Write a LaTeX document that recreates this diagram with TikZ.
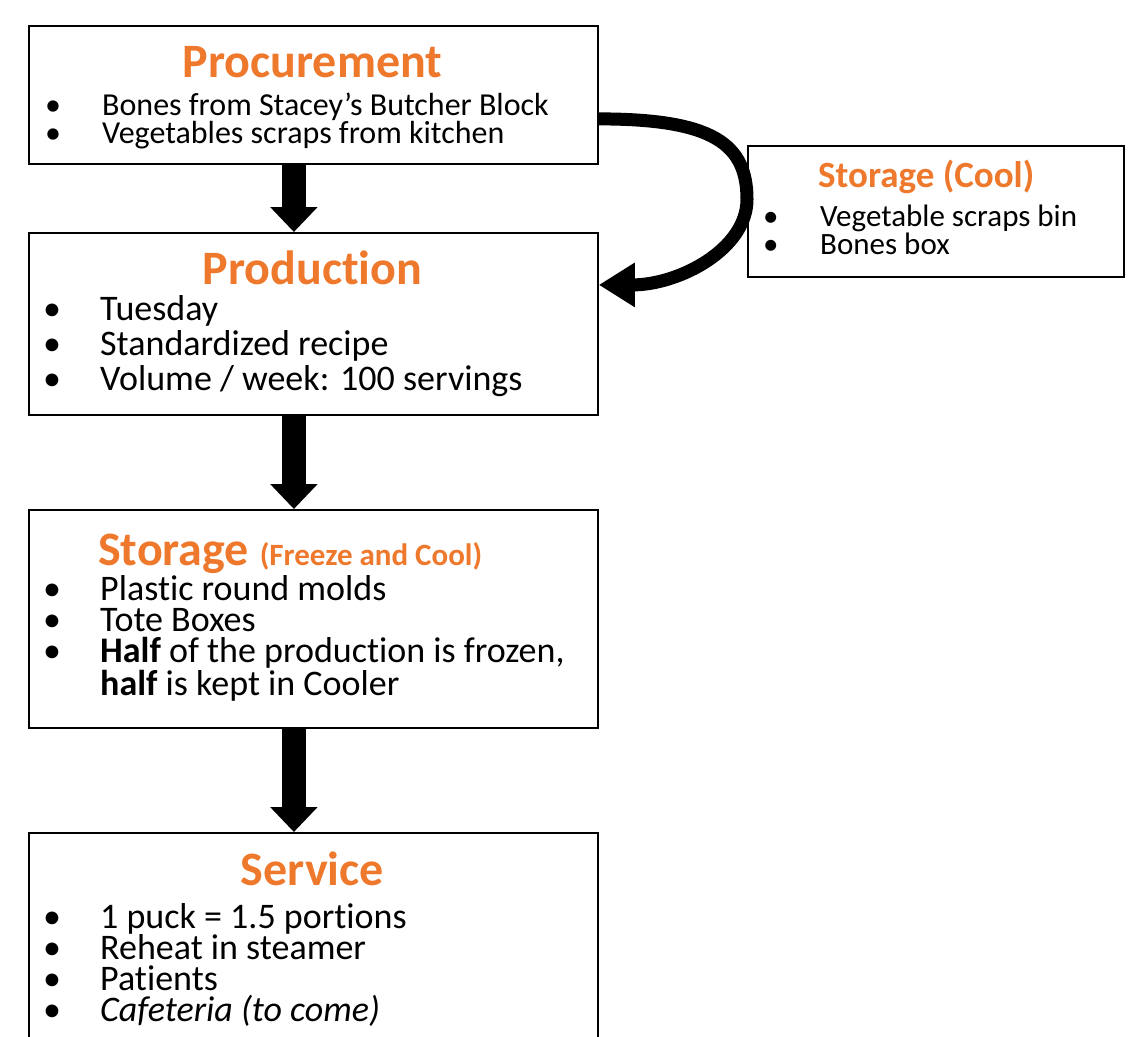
\documentclass[tikz,border=0pt]{standalone}
\usepackage{fontspec}
\setmainfont[Ligatures={TeX,NoCommon,NoContextual},Contextuals=NoAlternate]{Carlito}
\usetikzlibrary{arrows.meta,positioning}
\definecolor{headorange}{RGB}{238,120,44}
\newcommand{\bul}{\makebox[57pt][l]{\textbullet}}

\begin{document}
\begin{tikzpicture}[x=1pt,y=-1pt,
  box/.style={draw, line width=1.8pt, anchor=north west, inner sep=0pt},
  head/.style={text=headorange, inner sep=0pt, anchor=base, font=\bfseries\fontsize{48}{48}\selectfont},
  list/.style={align=left, anchor=base west, inner sep=0pt},
  down/.style={-{Triangle[width=46pt,length=25pt]}, line width=24pt},
  curl/.style={-{Triangle[width=42pt,length=36pt]}, line width=13pt}]
\useasboundingbox (0,0) rectangle (1131,1036);
\clip (0,0) rectangle (1131,1036);

\node[box, minimum width=569pt, minimum height=138pt] (proc) at (28,25) {};
\node[head] (proc-head) at (312.5,77) {Procurement};
\node[list, font=\fontsize{32}{28}\selectfont] (proc-list) at (45,143)
  {\bul Bones from Stacey's Butcher Block\\ \bul Vegetables scraps from kitchen};

\node[box, minimum width=569pt, minimum height=182pt] (prod) at (28,232) {};
\node[head] (prod-head) at (312.5,284) {Production};
\node[list, font=\fontsize{36}{35}\selectfont] (prod-list) at (43,390)
  {\bul Tuesday\\ \bul Standardized recipe\\ \bul Volume / week: 100 servings};

\node[box, minimum width=569pt, minimum height=218pt] (frz) at (28,509) {};
\node[head, anchor=base west] (frz-head) at (98,565) {Storage {\fontsize{31}{31}\selectfont (Freeze and Cool)}};
\node[list, font=\fontsize{36}{31}\selectfont] (frz-list) at (43,695)
  {\bul Plastic round molds\\ \bul Tote Boxes\\ \bul \textbf{Half} of the production is frozen,\\ \hspace*{57pt}\textbf{half} is kept in Cooler};

\node[box, minimum width=569pt, minimum height=238pt] (serv) at (28,832) {};
\node[head] (serv-head) at (312.5,885) {Service};
\node[list, font=\fontsize{36}{31}\selectfont] (serv-list) at (43,1021)
  {\bul 1 puck = 1.5 portions\\ \bul Reheat in steamer\\ \bul Patients\\ \bul \textit{Cafeteria (to come)}};

\node[box, minimum width=376pt, minimum height=131pt] (cool) at (747,145) {};
\node[head, anchor=base west, font=\bfseries\fontsize{37}{37}\selectfont] (cool-head) at (818,187) {Storage (Cool)};
\node[list, font=\fontsize{31}{28}\selectfont] (cool-list) at (763,254)
  {\bul Vegetable scraps bin\\ \bul Bones box};

\draw[down] ([xshift=-19.5pt]proc.south) -- ([xshift=-19.5pt]prod.north);
\draw[down] ([xshift=-19.5pt]prod.south) -- ([xshift=-19.5pt]frz.north);
\draw[down] ([xshift=-19.5pt]frz.south) -- ([xshift=-19.5pt]serv.north);
\draw[curl] ([yshift=-24pt]proc.east) .. controls +(115,0) and +(0,-55) .. ([yshift=12pt]cool.west)
  .. controls +(0,50) and +(80,0) .. ([yshift=39pt]prod.east);
\end{tikzpicture}
\end{document}
